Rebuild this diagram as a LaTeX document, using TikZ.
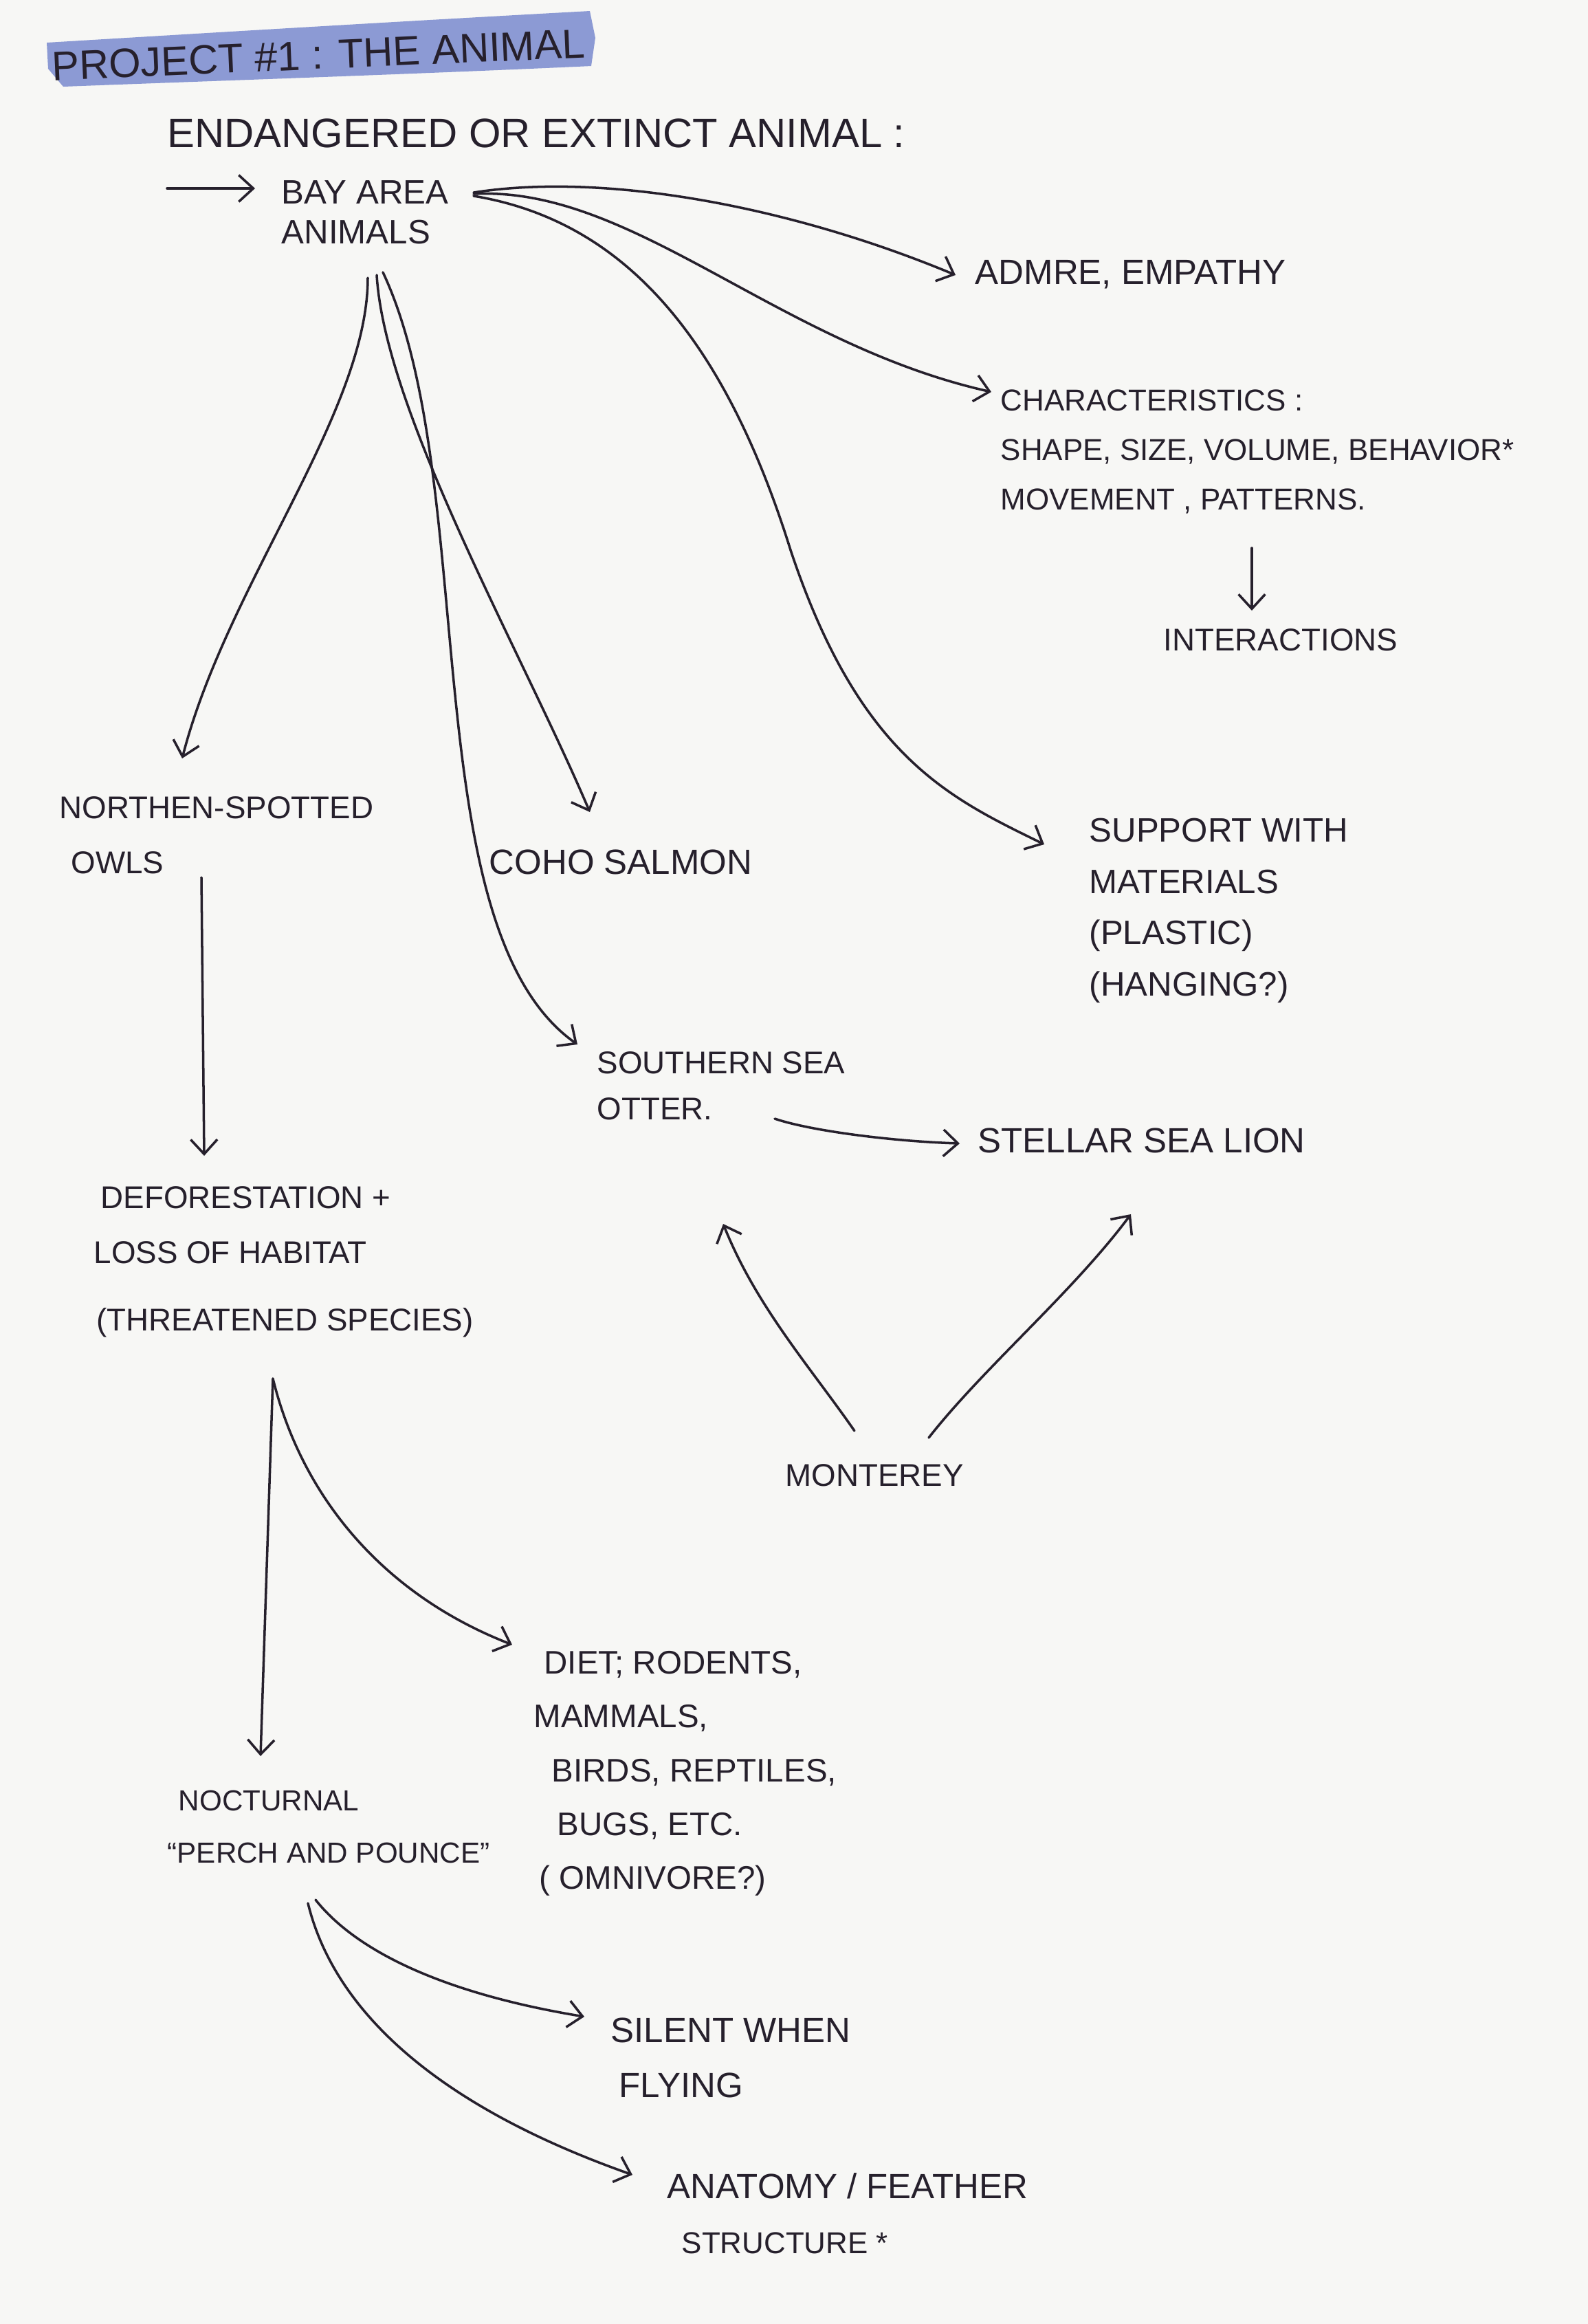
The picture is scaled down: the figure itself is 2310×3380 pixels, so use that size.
\documentclass[tikz,border=0pt]{standalone}
\usepackage{fontspec}
\setmainfont{Liberation Sans}
\usetikzlibrary{arrows.meta}
\definecolor{ink}{RGB}{38,32,44}
\definecolor{paper}{RGB}{247,247,245}
\definecolor{marker}{RGB}{140,154,212}
\newcommand\setfs[2]{\fontsize{#1}{#2}\selectfont}
\begin{document}
\begin{tikzpicture}[x=0.01cm,y=-0.01cm,
  txt/.style={inner sep=0pt,text=ink,align=left},
  conn/.style={draw=ink,line width=1pt,line cap=round,-{Straight Barb[length=6pt,width=11pt,line width=1pt]}}]
\fill[paper] (0,0) rectangle (2310,3380);
\useasboundingbox (0,0) rectangle (2310,3380);

% highlighter band behind the title
\fill[marker] (68,62) .. controls (300,48) and (600,30) .. (858,16) -- (866,55) -- (860,96)
  .. controls (600,108) and (300,118) .. (92,126) -- (70,100) -- cycle;

% ---------- nodes ----------
\node[txt,rotate=2.5,font=\setfs{17}{20}] (title) at (463,80) {PROJECT \#1 : THE ANIMAL};
\node[txt,anchor=west,font=\setfs{17}{20}] (topic) at (243,194) {ENDANGERED OR EXTINCT ANIMAL :};
\node[txt,anchor=north west,font=\setfs{14}{16.5}] (bay) at (409,262) {BAY AREA\\ANIMALS};
\node[txt,anchor=west,font=\setfs{14.5}{17}] (admire) at (1418,399) {ADMRE, EMPATHY};
\node[txt,anchor=north west,font=\setfs{12.5}{20.5}] (char) at (1455,566)
  {CHARACTERISTICS :\\SHAPE, SIZE, VOLUME, BEHAVIOR*\\MOVEMENT , PATTERNS.};
\node[txt,anchor=west,font=\setfs{13}{16}] (inter) at (1692,931) {INTERACTIONS};
\node[txt,anchor=north west,font=\setfs{14}{21.3}] (support) at (1584,1189)
  {SUPPORT WITH\\MATERIALS\\(PLASTIC)\\(HANGING?)};
\node[txt,anchor=north west,font=\setfs{13}{22.8}] (owls) at (86,1158)
  {NORTHEN-SPOTTED\\\hspace{0.17cm}OWLS};
\node[txt,anchor=west,font=\setfs{14.5}{17}] (coho) at (711,1254) {COHO SALMON};
\node[txt,anchor=north west,font=\setfs{13}{19.1}] (otter) at (868,1529)
  {SOUTHERN SEA\\OTTER.};
\node[txt,anchor=west,font=\setfs{14.5}{17}] (stellar) at (1422,1659) {STELLAR SEA LION};
\node[txt,anchor=west,font=\setfs{13}{16}] (monterey) at (1142,2146) {MONTEREY};
\node[txt,anchor=north west,font=\setfs{13}{22.8}] (defor) at (136,1725)
  {\hspace{0.1cm}DEFORESTATION +\\LOSS OF HABITAT\\[0.17cm]\hspace{0.04cm}(THREATENED SPECIES)};
\node[txt,anchor=north west,font=\setfs{13.5}{22.2}] (diet) at (776,2401)
  {\hspace{0.15cm}DIET; RODENTS,\\MAMMALS,\\\hspace{0.26cm}BIRDS, REPTILES,\\\hspace{0.34cm}BUGS, ETC.\\\hspace{0.08cm}( OMNIVORE?)};
\node[txt,anchor=north west,font=\setfs{12}{21.6}] (noc) at (243,2603)
  {\hspace{0.16cm}NOCTURNAL\\``PERCH AND POUNCE''};
\node[txt,anchor=north west,font=\setfs{14.5}{22.8}] (silent) at (888,2934)
  {SILENT WHEN\\\hspace{0.12cm}FLYING};
\node[txt,anchor=north west,font=\setfs{14.5}{22.8}] (anatomy) at (970,3160)
  {ANATOMY / FEATHER\\\hspace{0.21cm}\setfs{12.5}{22.8}STRUCTURE *};

% ---------- connector ports ----------
\coordinate (lead) at (243,274);
\coordinate (bayIn) at (371,274);
\coordinate (bayR1) at (689,280);
\coordinate (bayR2) at (689,282);
\coordinate (bayR3) at (689,285);
\coordinate (bayB1) at (535,404);
\coordinate (bayB2) at (548,400);
\coordinate (bayB3) at (557,396);
\coordinate (admIn) at (1390,400);
\coordinate (charIn) at (1442,570);
\coordinate (suppIn) at (1519,1228);
\coordinate (owlIn) at (265,1103);
\coordinate (cohoIn) at (858,1181);
\coordinate (otterIn) at (840,1519);
\coordinate (charOut) at (1821,797);
\coordinate (interIn) at (1821,888);
\coordinate (otterOut) at (1127,1627);
\coordinate (stellIn) at (1396,1663);
\coordinate (montL) at (1243,2081);
\coordinate (montR) at (1351,2091);
\coordinate (otterIn2) at (1052,1780);
\coordinate (stellIn2) at (1645,1766);
\coordinate (owlOut) at (293,1276);
\coordinate (deforIn) at (297,1681);
\coordinate (deforOut) at (397,2005);
\coordinate (nocIn) at (379,2554);
\coordinate (dietIn) at (745,2392);
\coordinate (nocOut1) at (459,2763);
\coordinate (nocOut2) at (448,2768);
\coordinate (silIn) at (850,2933);
\coordinate (anaIn) at (920,3163);

% ---------- connectors ----------
\draw[conn] (lead) -- (bayIn);
\draw[conn] (bayR1) .. controls (880,250) and (1150,300) .. (admIn);
\draw[conn] (bayR2) .. controls (920,270) and (1130,500) .. (charIn);
\draw[conn] (bayR3) .. controls (900,320) and (1050,480) .. (1150,800)
   .. controls (1250,1100) and (1380,1160) .. (suppIn);
\draw[conn] (bayB1) .. controls (535,600) and (330,850) .. (owlIn);
\draw[conn] (bayB2) .. controls (560,600) and (760,950) .. (cohoIn);
\draw[conn] (bayB3) .. controls (700,700) and (600,1350) .. (otterIn);
\draw[conn] (charOut) -- (interIn);
\draw[conn] (otterOut) .. controls (1180,1645) and (1300,1660) .. (stellIn);
\draw[conn] (montL) .. controls (1180,1990) and (1100,1900) .. (otterIn2);
\draw[conn] (montR) .. controls (1430,1990) and (1560,1880) .. (stellIn2);
\draw[conn] (owlOut) -- (deforIn);
\draw[conn] (deforOut) -- (nocIn);
\draw[conn] (deforOut) .. controls (440,2180) and (560,2320) .. (dietIn);
\draw[conn] (nocOut1) .. controls (520,2840) and (650,2900) .. (silIn);
\draw[conn] (nocOut2) .. controls (480,2900) and (600,3050) .. (anaIn);
\end{tikzpicture}
\end{document}
